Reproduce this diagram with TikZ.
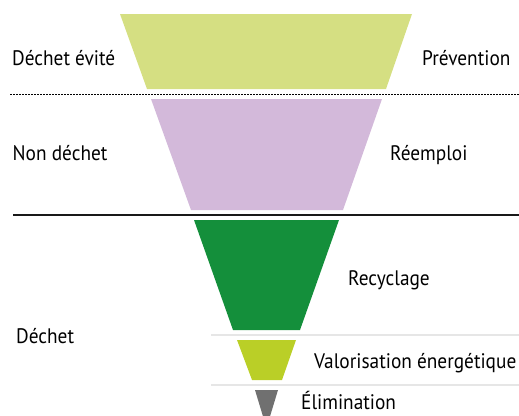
\documentclass[tikz,border=0pt]{standalone}
\usepackage{fontspec}
\setmainfont{PT Sans}[FakeStretch=0.92]
\usepackage{tikz}

\definecolor{prevcol}{HTML}{D5DF82}
\definecolor{reempcol}{HTML}{D3B9DA}
\definecolor{recycol}{HTML}{148F3B}
\definecolor{valocol}{HTML}{BACF27}
\definecolor{elimcol}{HTML}{707070}
\definecolor{sepcol}{HTML}{E6E6E6}

\tikzset{lbl/.style={anchor=base west,inner sep=0pt,font=\fontsize{21}{24}\selectfont}}

\begin{document}
\begin{tikzpicture}[x=1pt,y=-1pt]
\clip (0,0) rectangle (519,415);

%levels of the funnel
\fill[prevcol] (120,14) -- (412,14) -- (386,89) -- (147,89) -- cycle;
\fill[reempcol] (151,99) -- (382,99) -- (343,210) -- (191,210) -- cycle;
\fill[recycol] (194,220) -- (339,220) -- (300,330) -- (233,330) -- cycle;
\fill[valocol] (237,340) -- (296,340) -- (282,380) -- (252,380) -- cycle;
\fill[elimcol] (255,390) -- (278,390) -- (266.5,428) -- cycle;

%separators
\draw[line width=1.5pt,dash pattern=on 1.5pt off 1.5pt] (10,94.5) -- (519,94.5);
\draw[line width=2pt,black!90] (13,215) -- (519,215);
\draw[line width=2pt,sepcol] (211,335) -- (519,335);
\draw[line width=2pt,sepcol] (211,384.5) -- (519,384.5);

\node [lbl] (evite) at(12,65){Déchet évité};
\node [lbl] (nondechet) at(12.5,160){Non déchet};
\node [lbl] (dechet) at(16,343){Déchet};

\node [lbl] (prevention) at(422,65){Prévention};
\node [lbl] (reemploi) at(390,160){Réemploi};
\node [lbl] (recyclage) at(348,285){Recyclage};
\node [lbl] (valorisation) at(314,368){Valorisation énergétique};
\node [lbl] (elimination) at(301,409){Élimination};

\end{tikzpicture}
\end{document}
